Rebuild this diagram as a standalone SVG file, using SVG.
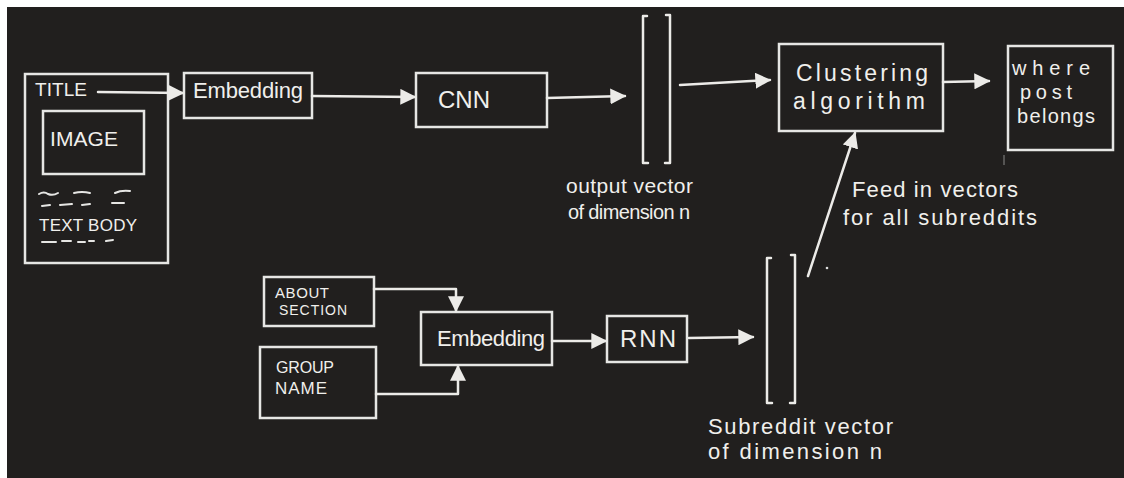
<svg xmlns="http://www.w3.org/2000/svg" width="1124" height="478" viewBox="0 0 1124 478">
  <style>
    .box { fill: none; stroke: #e6e6e4; stroke-width: 2.5; }
    .ln { fill: none; stroke: #ecebe8; stroke-width: 2.5; stroke-linecap: round; stroke-linejoin: round; }
    .sq { fill: none; stroke: #e6e6e4; stroke-width: 2; stroke-linecap: round; }
    .t { font-family: "Liberation Sans", Arial, sans-serif; fill: #f0efec; }
    .hw { font-size: 22px; }
    .lg { font-size: 22px; }
    .wp { font-size: 20px; }
  </style>
  <defs>
    <marker id="ah" viewBox="0 0 12 12" refX="11" refY="6" markerWidth="16" markerHeight="16" markerUnits="userSpaceOnUse" orient="auto">
      <path d="M0,0 L12,6 L0,12 Z" fill="#ecebe8"/>
    </marker>
  </defs>
  <rect x="0" y="0" width="1124" height="478" fill="#ffffff"/>
  <rect x="7" y="7" width="1117" height="471" fill="#211f1e"/>

  <g id="post">
    <rect class="box" x="25" y="74" width="143" height="189"/>
    <text class="t" style="font-size:19px" x="35" y="96" textLength="52">TITLE</text>
    <g id="image">
      <rect class="box" x="43" y="111" width="101" height="63"/>
      <text class="t" style="font-size:21px" x="50" y="146" textLength="68">IMAGE</text>
    </g>
    <path class="sq" d="M39,194 q5,-3 9,0 q5,2 10,-1 M74,193 q8,-2 16,0 M115,193 q6,-3 15,-2 M42,206 l8,-1 M60,205 l12,-1 M82,205 l8,-1 M112,203 l12,0 M42,242 l14,0 M62,241 l9,0 M78,242 l7,0 M89,241 l5,0 M106,241 l7,-1"/>
    <text class="t" style="font-size:17px" x="39" y="231" textLength="98">TEXT BODY</text>
  </g>

  <g id="embedding1">
    <rect class="box" x="184" y="73" width="128" height="45"/>
    <text class="t hw" x="193" y="98" textLength="110">Embedding</text>
  </g>

  <g id="cnn">
    <rect class="box" x="416" y="73" width="131" height="54"/>
    <text class="t" style="font-size:24px" x="438" y="108" textLength="52">CNN</text>
  </g>

  <g id="output-vector">
    <path class="ln" d="M647,16 L643,16 L643,163 L648,163"/>
    <path class="ln" d="M666,15 L670,15 L670,163 L665,163"/>
    <text class="t" style="font-size:21px" x="566" y="193" textLength="127">output vector</text>
    <text class="t" style="font-size:20px" x="568" y="219" textLength="122">of dimension n</text>
  </g>

  <g id="clustering">
    <rect class="box" x="779" y="44" width="164" height="87"/>
    <text class="t" style="font-size:23px" x="796" y="81" textLength="132">Clustering</text>
    <text class="t" style="font-size:23px" x="793" y="109" textLength="132">algorithm</text>
  </g>

  <g id="where">
    <rect class="box" x="1008" y="46" width="105" height="104"/>
    <text class="t wp" x="1012" y="75" textLength="78">where</text>
    <text class="t wp" x="1020" y="99" textLength="52">post</text>
    <text class="t wp" x="1017" y="123" textLength="78">belongs</text>
  </g>

  <g id="about">
    <rect class="box" x="264" y="277" width="110" height="49"/>
    <text class="t" style="font-size:15px" x="275" y="298" textLength="54">ABOUT</text>
    <text class="t" style="font-size:14px" x="279" y="315" textLength="68">SECTION</text>
  </g>

  <g id="group">
    <rect class="box" x="260" y="347" width="116" height="71"/>
    <text class="t" style="font-size:16px" x="276" y="373" textLength="58">GROUP</text>
    <text class="t" style="font-size:17px" x="275" y="394" textLength="52">NAME</text>
  </g>

  <g id="embedding2">
    <rect class="box" x="421" y="312" width="131" height="53"/>
    <text class="t hw" x="437" y="346" textLength="108">Embedding</text>
  </g>

  <g id="rnn">
    <rect class="box" x="607" y="316" width="80" height="46"/>
    <text class="t" style="font-size:24px" x="620" y="347" textLength="56">RNN</text>
  </g>

  <g id="subreddit-vector">
    <path class="ln" d="M771,258 L767,258 L767,403 L772,403"/>
    <path class="ln" d="M791,255 L795,255 L795,403 L790,403"/>
    <text class="t lg" x="708" y="434" textLength="185">Subreddit vector</text>
    <text class="t lg" x="708" y="459" textLength="174">of dimension n</text>
  </g>

  <g id="feed-label">
    <text class="t lg" x="852" y="197" textLength="166">Feed in vectors</text>
    <text class="t lg" x="843" y="225" textLength="194">for all subreddits</text>
  </g>

  <g id="connectors">
    <line class="ln" x1="98" y1="92" x2="183" y2="93" marker-end="url(#ah)"/>
    <line class="ln" x1="312" y1="96" x2="415" y2="97" marker-end="url(#ah)"/>
    <line class="ln" x1="547" y1="98" x2="625" y2="96" marker-end="url(#ah)"/>
    <line class="ln" x1="680" y1="85" x2="770" y2="80" marker-end="url(#ah)"/>
    <line class="ln" x1="943" y1="82" x2="989" y2="81" marker-end="url(#ah)"/>
    <line class="ln" x1="808" y1="276" x2="855" y2="133" marker-end="url(#ah)"/>
    <path class="ln" d="M374,289 L456,289 L456,311" marker-end="url(#ah)"/>
    <path class="ln" d="M376,394 L458,394 L458,366" marker-end="url(#ah)"/>
    <line class="ln" x1="552" y1="341" x2="606" y2="341" marker-end="url(#ah)"/>
    <line class="ln" x1="689" y1="338" x2="753" y2="337" marker-end="url(#ah)"/>
    <circle cx="827" cy="268" r="1.3" fill="#dddddd"/>
    <line x1="1004" y1="155" x2="1004" y2="165" stroke="#8a8a88" stroke-width="1"/>
  </g>
</svg>
